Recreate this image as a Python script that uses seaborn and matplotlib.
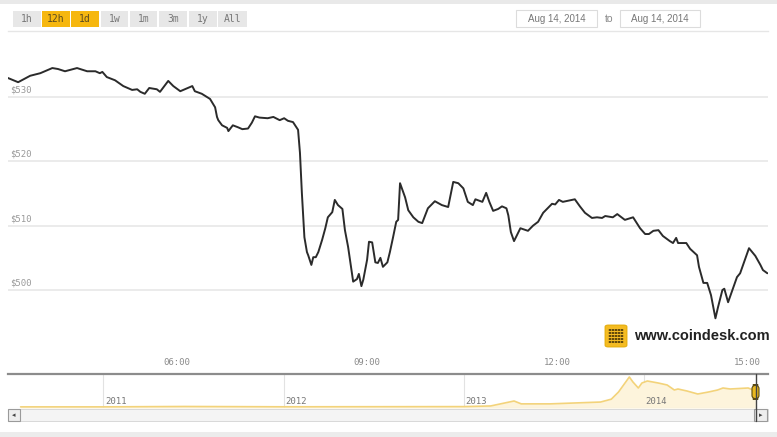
import numpy as np
import pandas as pd
import matplotlib
matplotlib.use("Agg")
import matplotlib.pyplot as plt
import matplotlib.patches as mpatches
import seaborn as sns

# ---------------- data ----------------
hours = [3.33, 3.49, 3.68, 3.84, 4.03, 4.12, 4.23, 4.42, 4.58, 4.71, 4.78, 4.82, 4.89,
         5.02, 5.15, 5.29, 5.37, 5.42, 5.49, 5.56, 5.68, 5.73, 5.86, 5.94, 6.05, 6.17,
         6.24, 6.28, 6.39, 6.52, 6.60, 6.63, 6.65, 6.71, 6.79, 6.81, 6.88, 6.96, 7.03,
         7.12, 7.18, 7.23, 7.30, 7.43, 7.52, 7.62, 7.69, 7.75, 7.83, 7.91, 7.94, 7.97,
         8.01, 8.05, 8.07, 8.12, 8.15, 8.19, 8.23, 8.29, 8.34, 8.38, 8.45, 8.49, 8.54,
         8.61, 8.65, 8.70, 8.78, 8.84, 8.87, 8.91, 8.94, 9.00, 9.03, 9.08, 9.13, 9.17,
         9.21, 9.25, 9.32, 9.36, 9.41, 9.46, 9.49, 9.52, 9.60, 9.65, 9.73, 9.81, 9.87,
         9.96, 10.07, 10.18, 10.28, 10.36, 10.44, 10.52, 10.59, 10.67, 10.71, 10.82,
         10.88, 10.93, 10.99, 11.07, 11.13, 11.20, 11.23, 11.27, 11.32, 11.42, 11.54,
         11.62, 11.70, 11.78, 11.92, 11.97, 12.03, 12.09, 12.28, 12.36, 12.44, 12.55,
         12.63, 12.71, 12.76, 12.88, 12.95, 13.07, 13.20, 13.31, 13.39, 13.45, 13.52,
         13.60, 13.67, 13.78, 13.83, 13.88, 13.91, 14.04, 14.10, 14.21, 14.24, 14.31,
         14.37, 14.43, 14.50, 14.54, 14.61, 14.64, 14.70, 14.78, 14.84, 14.89, 14.94,
         15.03, 15.13, 15.21, 15.25, 15.32]
prices = [532.95, 532.3, 533.3, 533.7, 534.5, 534.35, 534.0, 534.5, 534.0, 534.0, 533.7,
          533.9, 533.1, 532.6, 531.7, 531.1, 531.2, 530.8, 530.5, 531.4, 531.2, 530.8,
          532.5, 531.7, 530.9, 531.4, 531.7, 530.9, 530.5, 529.7, 528.4, 526.9, 526.4,
          525.6, 525.2, 524.7, 525.6, 525.3, 525.0, 525.1, 526.0, 527.0, 526.8, 526.7,
          526.9, 526.4, 526.7, 526.3, 526.1, 524.9, 521.3, 515.1, 508.2, 505.9, 505.4,
          503.9, 505.1, 505.1, 505.9, 507.8, 509.6, 511.3, 512.1, 514.0, 513.2, 512.6,
          509.3, 506.7, 501.3, 501.7, 502.5, 500.6, 501.6, 504.7, 507.5, 507.4, 504.3,
          504.2, 505.0, 503.6, 504.3, 505.9, 508.2, 510.6, 510.9, 516.6, 514.4, 512.4,
          511.3, 510.6, 510.4, 512.7, 513.8, 513.2, 512.9, 516.8, 516.6, 515.8, 513.7,
          513.2, 514.1, 513.7, 515.1, 513.7, 512.3, 512.6, 513.0, 512.7, 511.6, 509.0,
          507.6, 509.6, 509.2, 510.0, 510.6, 512.0, 513.4, 513.3, 514.0, 513.7, 514.1,
          513.0, 512.0, 511.2, 511.3, 511.2, 511.5, 511.3, 511.8, 510.9, 511.3, 509.6,
          508.7, 508.7, 509.2, 509.3, 508.4, 507.6, 507.3, 508.1, 507.3, 507.3, 506.4,
          505.4, 503.6, 501.1, 501.1, 499.2, 495.6, 497.3, 500.0, 500.2, 498.1, 500.3,
          502.0, 502.6, 504.0, 506.5, 505.3, 503.9, 503.1, 502.6]

price_ticks = [500, 510, 520, 530]
price_labels = ["$500", "$510", "$520", "$530"]
time_ticks = [6, 9, 12, 15]
time_labels = ["06:00", "09:00", "12:00", "15:00"]

nav_years = [2010.54, 2011.0, 2011.45, 2012.0, 2012.6, 2013.0, 2013.15, 2013.28, 2013.32,
             2013.48, 2013.76, 2013.82, 2013.86, 2013.90, 2013.92, 2013.94, 2013.97,
             2013.99, 2014.02, 2014.08, 2014.13, 2014.17, 2014.19, 2014.24, 2014.30,
             2014.36, 2014.41, 2014.44, 2014.48, 2014.58, 2014.62]
nav_prices = [5, 5, 20, 8, 12, 15, 40, 230, 120, 120, 190, 300, 575, 958, 1150, 958, 728,
              920, 996, 920, 843, 651, 690, 613, 498, 575, 651, 728, 690, 728, 613]
nav_year_ticks = [2011, 2012, 2013, 2014]
nav_year_labels = ["2011", "2012", "2013", "2014"]

buttons = ["1h", "12h", "1d", "1w", "1m", "3m", "1y", "All"]
active_buttons = ["12h", "1d"]
date_from = "Aug 14, 2014"
date_to = "Aug 14, 2014"

# ---------------- figure ----------------
sns.set_theme(style="white")
plt.rcParams['font.family'] = ['DejaVu Sans']

W, H = 777, 437
fig = plt.figure(figsize=(W / 100, H / 100), dpi=100)
fig.patch.set_facecolor("white")

def fx(x):
    return x / W

def fy(y):
    return 1 - y / H

def rect(x0, y0, x1, y1, **kw):
    r = mpatches.Rectangle((fx(x0), fy(y1)), fx(x1) - fx(x0), fy(y0) - fy(y1),
                           transform=fig.transFigure, **kw)
    fig.add_artist(r)
    return r

# top / bottom gray strips
rect(0, 0, W, 4, facecolor="#e9e9e9", edgecolor="none")
rect(0, 432, W, H, facecolor="#ececec", edgecolor="none")

# range buttons
btn_x = [(13, 41), (42, 70), (71, 99), (101, 128), (130, 157), (159, 187), (189, 217), (218, 247)]
for lbl, (x0, x1) in zip(buttons, btn_x):
    active = lbl in active_buttons
    rect(x0, 11, x1, 27, facecolor="#f6b70f" if active else "#e7e7e7", edgecolor="none")
    fig.text(fx((x0 + x1) / 2), fy(18.5), lbl, ha="center", va="center",
             fontsize=7, family="DejaVu Sans Mono",
             color="#5a4a20" if active else "#777777")

# date boxes
for (x0, x1), txt in zip([(516, 597), (620, 700)], [date_from, date_to]):
    rect(x0, 10, x1, 27, facecolor="white", edgecolor="#dcdcdc", linewidth=0.8)
    fig.text(fx((x0 + x1) / 2), fy(18.5), txt, ha="center", va="center",
             fontsize=7, family="Liberation Sans", color="#777777")
fig.text(fx(609), fy(18.5), "to", ha="center", va="center", fontsize=7.5,
         family="Liberation Sans", color="#888888")

# ---------------- main chart ----------------
y_top_px, y_bot_px = 31, 350
ax = fig.add_axes([fx(8), fy(y_bot_px), fx(768) - fx(8), fy(y_top_px) - fy(y_bot_px)])
df = pd.DataFrame({"hour": hours, "price": prices})
sns.lineplot(data=df, x="hour", y="price", ax=ax, color="#2b2b2b", linewidth=1.4)

ppx = 193 / 30.0
ax.set_ylim(530 - (y_bot_px - 97) / ppx, 530 + (97 - y_top_px) / ppx)
ax.set_xlim(3.33, 15.33)
for s in ax.spines.values():
    s.set_visible(False)
ax.spines["top"].set_visible(True)
ax.spines["top"].set_color("#e6e6e6")
ax.spines["top"].set_linewidth(1.0)
ax.set_facecolor("none")
ax.set_yticks(price_ticks)
ax.set_yticklabels([])
ax.yaxis.grid(True, color="#e8e8e8", linewidth=1.2)
ax.xaxis.grid(False)
ax.tick_params(axis="both", length=0)
ax.set_xticks(time_ticks)
ax.set_xticklabels(time_labels, fontsize=6.5, family="DejaVu Sans Mono", color="#8a8a8a")
ax.tick_params(axis="x", pad=6)
ax.set_xlabel("")
ax.set_ylabel("")
for v, lab in zip(price_ticks, price_labels):
    ax.text(0.003, v + 0.4, lab, transform=ax.get_yaxis_transform(), ha="left", va="bottom",
            fontsize=6.5, family="DejaVu Sans Mono", color="#999999")

# coindesk logo
logo = mpatches.FancyBboxPatch((fx(605), fy(347)), fx(627) - fx(605), fy(325) - fy(347),
                               boxstyle="round,pad=0,rounding_size=0.004",
                               transform=fig.transFigure, facecolor="#f4bb22",
                               edgecolor="#e0a800", linewidth=0.6)
fig.add_artist(logo)
for i in range(5):
    for j in range(5):
        dot = mpatches.Circle((fx(610 + i * 3.0), fy(330 + j * 3.0)), radius=0.0018,
                              transform=fig.transFigure, facecolor="#2a1f02", edgecolor="none")
        fig.add_artist(dot)
fig.text(fx(634), fy(336), "www.coindesk.com", ha="left", va="center", fontsize=10.5,
         family="Liberation Sans", fontweight="bold", color="#222222")

# ---------------- navigator ----------------
nav = fig.add_axes([fx(8), fy(408), fx(768) - fx(8), fy(374) - fy(408)])
ndf = pd.DataFrame({"year": nav_years, "price": nav_prices})
nav.fill_between(ndf["year"], ndf["price"], -40, color="#fdf4dc", linewidth=0)
sns.lineplot(data=ndf, x="year", y="price", ax=nav, color="#f3d37a", linewidth=1.2)
nav.set_xlim(2010.47, 2014.69)
nav.set_ylim(-38, 1264)
nav.set_facecolor("none")
for s in nav.spines.values():
    s.set_visible(False)
nav.spines["top"].set_visible(True)
nav.spines["top"].set_color("#8c8c8c")
nav.spines["top"].set_linewidth(1.6)
nav.set_xticks(nav_year_ticks)
nav.set_xticklabels([])
nav.set_yticks([])
nav.xaxis.grid(True, color="#e2e2e2", linewidth=0.8)
nav.tick_params(axis="both", length=0)
nav.set_xlabel("")
nav.set_ylabel("")
for yr, lab in zip(nav_year_ticks, nav_year_labels):
    nav.text(yr + 0.01, 0.18, lab, transform=nav.get_xaxis_transform(), ha="left",
             va="center", fontsize=6.5, family="DejaVu Sans Mono", color="#777777")
nav.axhline(-38 + 2, color="#e6e6e6", linewidth=0.8)

# scrollbar
rect(8, 409, 768, 421, facecolor="#f4f4f4", edgecolor="#d8d8d8", linewidth=0.7)
rect(8, 409, 20, 421, facecolor="#eeeeee", edgecolor="#9a9a9a", linewidth=0.8)
rect(754, 409, 767, 421, facecolor="#eeeeee", edgecolor="#9a9a9a", linewidth=0.8)
fig.text(fx(14), fy(415), "◂", ha="center", va="center", fontsize=5, color="#444444")
fig.text(fx(760.5), fy(415), "▸", ha="center", va="center", fontsize=5, color="#444444")

# navigator handle
fig.add_artist(plt.Line2D([fx(755.5), fx(755.5)], [fy(374), fy(421)],
                          transform=fig.transFigure, color="#444444", linewidth=1.0))
handle = mpatches.FancyBboxPatch((fx(752), fy(399)), fx(759) - fx(752), fy(385) - fy(399),
                                 boxstyle="round,pad=0,rounding_size=0.008",
                                 transform=fig.transFigure, facecolor="#e9b81f",
                                 edgecolor="#5a4a10", linewidth=0.8)
fig.add_artist(handle)

fig.savefig("out.png", dpi=100, facecolor="white")
